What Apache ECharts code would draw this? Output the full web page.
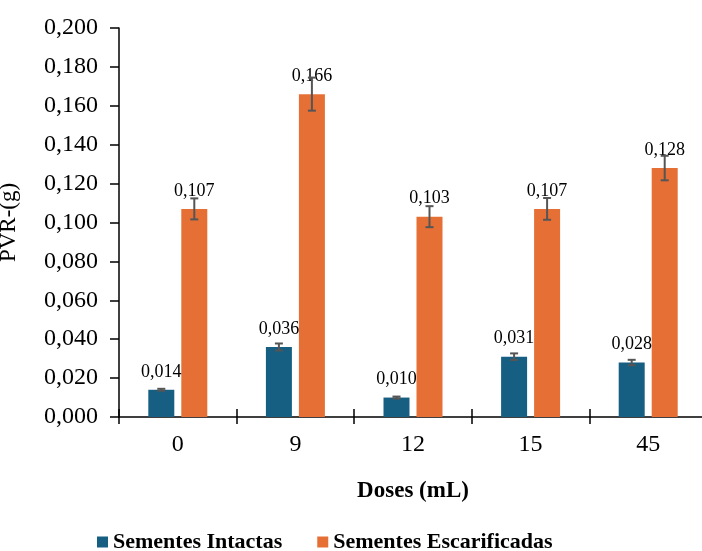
<!DOCTYPE html>
<html>
<head>
<meta charset="utf-8">
<script src="https://cdn.jsdelivr.net/npm/echarts@6/dist/echarts.min.js"></script>
<style>
html,body{margin:0;padding:0;background:#fff;}
#c{width:702px;height:551px;}
</style>
</head>
<body>
<div id="c"></div>
<script>
const categories = ['0', '9', '12', '15', '45'];
const intactas = [0.014, 0.036, 0.010, 0.031, 0.028];
const escarificadas = [0.107, 0.166, 0.103, 0.107, 0.128];
const errIntactas = [0.0005, 0.0018, 0.0005, 0.0017, 0.0014];
const errEscarificadas = [0.0054, 0.0085, 0.0054, 0.0056, 0.0063];
const seriesNames = ['Sementes Intactas', 'Sementes Escarificadas'];

const FONT = "'Liberation Serif', 'Times New Roman', serif";
const BLUE = '#175f82';
const ORANGE = '#e66f35';
const BAR_W = 26;
const BAR_GAP = 7;
const GRID_H = 389;

const fmt = v => v.toFixed(3).replace('.', ',');

function errRender(offset) {
  return function (params, api) {
    const i = api.value(0), v = api.value(1), e = api.value(2);
    const top = api.coord([i, v + e]);
    const bot = api.coord([i, v - e]);
    const x = top[0] + offset;
    const cap = 4;
    const style = { stroke: '#555', lineWidth: 2 };
    return {
      type: 'group',
      children: [
        { type: 'line', shape: { x1: x, y1: top[1], x2: x, y2: bot[1] }, style },
        { type: 'line', shape: { x1: x - cap, y1: top[1], x2: x + cap, y2: top[1] }, style },
        { type: 'line', shape: { x1: x - cap, y1: bot[1], x2: x + cap, y2: bot[1] }, style }
      ]
    };
  };
}

const chart = echarts.init(document.getElementById('c'));
const off = (BAR_W + BAR_GAP) / 2;

chart.setOption({
  animation: false,
  textStyle: { fontFamily: FONT, color: '#000' },
  grid: { left: 119, top: 28, width: 588, height: GRID_H, containLabel: false, outerBoundsMode: 'none' },
  legend: {
    left: 97, top: 531,
    padding: 0,
    itemWidth: 11, itemHeight: 11, itemGap: 35,
    icon: 'rect',
    data: seriesNames,
    textStyle: { fontFamily: FONT, fontSize: 22, fontWeight: 'bold', color: '#000' }
  },
  xAxis: [{
    type: 'category',
    data: categories,
    position: 'bottom',
    name: 'Doses (mL)',
    nameLocation: 'middle',
    nameGap: 63,
    nameTextStyle: { fontFamily: FONT, fontSize: 23, fontWeight: 'bold', color: '#000' },
    axisLine: { onZero: false, lineStyle: { color: '#000', width: 1.5 } },
    axisTick: { show: true, length: 7, lineStyle: { color: '#000', width: 1.5 } },
    axisLabel: { fontFamily: FONT, fontSize: 24, color: '#000', margin: 16 }
  }, {
    type: 'category',
    data: categories,
    position: 'top',
    offset: -GRID_H,
    gridIndex: 0,
    axisLine: { show: false, onZero: false },
    axisTick: { show: true, length: 8, lineStyle: { color: '#000', width: 1.5 } },
    axisLabel: { show: false }
  }],
  yAxis: {
    type: 'value',
    min: 0, max: 0.2, interval: 0.02,
    name: 'PVR-(g)',
    nameLocation: 'middle',
    nameGap: 99,
    nameTextStyle: { fontFamily: FONT, fontSize: 23, color: '#000' },
    axisLine: { show: true, lineStyle: { color: '#000', width: 1.5 } },
    axisTick: { show: true, length: 9, lineStyle: { color: '#000', width: 1.5 } },
    splitLine: { show: false },
    axisLabel: { fontFamily: FONT, fontSize: 24, color: '#000', margin: 21, formatter: fmt }
  },
  series: [{
    name: seriesNames[0],
    type: 'bar',
    data: intactas,
    barWidth: BAR_W,
    barGap: (BAR_GAP / BAR_W * 100) + '%',
    itemStyle: { color: BLUE },
    label: { show: true, position: 'top', distance: 9, fontFamily: FONT, fontSize: 18, color: '#000', formatter: p => fmt(p.value) }
  }, {
    name: seriesNames[1],
    type: 'bar',
    data: escarificadas,
    barWidth: BAR_W,
    itemStyle: { color: ORANGE },
    label: { show: true, position: 'top', distance: 9, fontFamily: FONT, fontSize: 18, color: '#000', formatter: p => fmt(p.value) }
  }, {
    type: 'custom',
    z: 10,
    renderItem: errRender(-off),
    data: intactas.map((v, i) => [i, v, errIntactas[i]]),
    silent: true
  }, {
    type: 'custom',
    z: 10,
    renderItem: errRender(off),
    data: escarificadas.map((v, i) => [i, v, errEscarificadas[i]]),
    silent: true
  }]
});
</script>
</body>
</html>
